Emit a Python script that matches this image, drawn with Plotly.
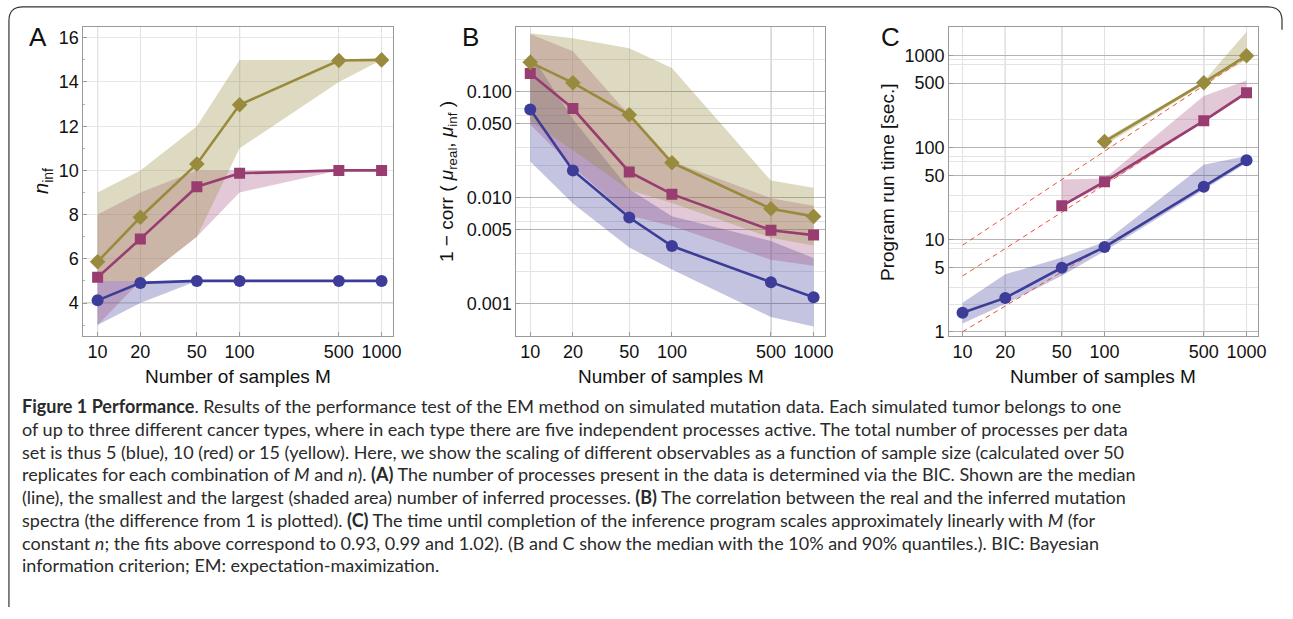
import plotly.graph_objects as go

# ---------------- data ----------------
M = [10, 20, 50, 100, 500, 1000]
M_tick_labels = ["10", "20", "50", "100", "500", "1000"]

# Panel A: number of inferred processes n_inf (median, min, max)
a_blue_med = [4.12, 4.91, 5.0, 5.0, 5.0, 5.0]
a_blue_lo = [3, 4, 5, 5, 5, 5]
a_blue_hi = [5, 5, 5, 5, 5, 5]
a_red_med = [5.16, 6.9, 9.26, 9.87, 10.0, 10.0]
a_red_lo = [3, 5, 7, 9, 10, 10]
a_red_hi = [8, 9, 10, 10, 10, 10]
a_yel_med = [5.87, 7.88, 10.29, 12.97, 14.97, 15.0]
a_yel_lo = [5, 5, 7, 11, 14, 15]
a_yel_hi = [9, 10, 12, 15, 15, 15]
a_yticks = [4, 6, 8, 10, 12, 14, 16]

# Panel B: 1 - corr(mu_real, mu_inf) (median, 10%, 90%)
b_blue_med = [0.068, 0.0181, 0.0065, 0.0035, 0.0016, 0.00115]
b_blue_lo = [0.022, 0.0088, 0.0034, 0.0021, 0.00075, 0.00061]
b_blue_hi = [0.23, 0.055, 0.012, 0.0067, 0.0039, 0.0027]
b_red_med = [0.148, 0.0693, 0.0175, 0.0108, 0.00494, 0.00444]
b_red_lo = [0.049, 0.0195, 0.0068, 0.0054, 0.0026, 0.00228]
b_red_hi = [0.35, 0.24, 0.06, 0.022, 0.0099, 0.0084]
b_yel_med = [0.189, 0.121, 0.0605, 0.0214, 0.00787, 0.00667]
b_yel_lo = [0.053, 0.028, 0.0118, 0.0089, 0.0042, 0.00355]
b_yel_hi = [0.355, 0.319, 0.257, 0.167, 0.0145, 0.0124]
b_yticks = [0.001, 0.005, 0.01, 0.05, 0.1]
b_ytick_labels = ["0.001", "0.005", "0.010", "0.050", "0.100"]

# Panel C: program run time [sec.] (median, 10%, 90%)
c_blue_med = [1.61, 2.33, 4.95, 8.3, 37.6, 72.6]
c_blue_lo = [1.23, 2.0, 4.05, 7.5, 34.7, 68]
c_blue_hi = [2.06, 4.2, 6.4, 9.4, 65, 81]
M_red_c = [50, 100, 500, 1000]
c_red_med = [23.3, 42.6, 195, 394]
c_red_lo = [23, 39, 188, 375]
c_red_hi = [45, 46, 363, 535]
M_yel_c = [100, 500, 1000]
c_yel_med = [116, 505, 992]
c_yel_lo = [105, 484, 899]
c_yel_hi = [124, 525, 1811]
c_yticks = [1, 5, 10, 50, 100, 500, 1000]
# power-law fits t = t10 * (M/10)^k
fit_exponent = [0.93, 0.99, 1.02]
fit_t10 = [1.0, 4.03, 8.7]
fit_range = [10, 1000]

caption_lines = [
    "<b>Figure 1 Performance</b>. Results of the performance test of the EM method on simulated mutation data. Each simulated tumor belongs to one",
    "of up to three different cancer types, where in each type there are five independent processes active. The total number of processes per data",
    "set is thus 5 (blue), 10 (red) or 15 (yellow). Here, we show the scaling of different observables as a function of sample size (calculated over 50",
    "replicates for each combination of <i>M</i> and <i>n</i>). <b>(A)</b> The number of processes present in the data is determined via the BIC. Shown are the median",
    "(line), the smallest and the largest (shaded area) number of inferred processes. <b>(B)</b> The correlation between the real and the inferred mutation",
    "spectra (the difference from 1 is plotted). <b>(C)</b> The time until completion of the inference program scales approximately linearly with <i>M</i> (for",
    "constant <i>n</i>; the fits above correspond to 0.93, 0.99 and 1.02). (B and C show the median with the 10% and 90% quantiles.). BIC: Bayesian",
    "information criterion; EM: expectation-maximization.",
]

# ---------------- style ----------------
W, H = 1293, 619
BLUE = "rgb(61,61,153)"
RED = "rgb(153,61,113)"
YEL = "rgb(153,139,61)"
FILL = {BLUE: "rgba(61,61,153,0.30)", RED: "rgba(153,61,113,0.28)", YEL: "rgba(153,139,61,0.32)"}
SYM = {BLUE: "circle", RED: "square", YEL: "diamond"}
MSIZE = {BLUE: 12, RED: 11, YEL: 12}
FONT = "Liberation Sans, Arial, Helvetica, sans-serif"


def px(x):
    return x / W


def py(y):
    return 1 - y / H


fig = go.Figure()


def add_band(xa, ya, xs, lo, hi, col):
    fig.add_trace(go.Scatter(
        x=list(xs) + list(xs)[::-1], y=list(hi) + list(lo)[::-1],
        fill="toself", fillcolor=FILL[col], line=dict(width=0), mode="lines",
        hoverinfo="skip", showlegend=False, xaxis=xa, yaxis=ya))


def add_line(xa, ya, xs, med, col):
    fig.add_trace(go.Scatter(
        x=xs, y=med, mode="lines+markers",
        line=dict(color=col, width=2.6),
        marker=dict(symbol=SYM[col], size=MSIZE[col], color=col),
        showlegend=False, xaxis=xa, yaxis=ya))


# Panel A
for xs, lo, hi, col in [(M, a_blue_lo, a_blue_hi, BLUE),
                        (M, a_red_lo, a_red_hi, RED),
                        (M, a_yel_lo, a_yel_hi, YEL)]:
    add_band("x", "y", xs, lo, hi, col)
for xs, med, col in [(M, a_blue_med, BLUE), (M, a_red_med, RED), (M, a_yel_med, YEL)]:
    add_line("x", "y", xs, med, col)

# Panel B
for xs, lo, hi, col in [(M, b_blue_lo, b_blue_hi, BLUE),
                        (M, b_red_lo, b_red_hi, RED),
                        (M, b_yel_lo, b_yel_hi, YEL)]:
    add_band("x2", "y2", xs, lo, hi, col)
for xs, med, col in [(M, b_blue_med, BLUE), (M, b_red_med, RED), (M, b_yel_med, YEL)]:
    add_line("x2", "y2", xs, med, col)

# Panel C
for xs, lo, hi, col in [(M, c_blue_lo, c_blue_hi, BLUE),
                        (M_red_c, c_red_lo, c_red_hi, RED),
                        (M_yel_c, c_yel_lo, c_yel_hi, YEL)]:
    add_band("x3", "y3", xs, lo, hi, col)
for k, t10 in zip(fit_exponent, fit_t10):
    fig.add_trace(go.Scatter(
        x=fit_range, y=[t10 * (m / 10) ** k for m in fit_range], mode="lines",
        line=dict(color="rgb(232,80,60)", width=1, dash="5px,4px"),
        showlegend=False, hoverinfo="skip", xaxis="x3", yaxis="y3"))
for xs, med, col in [(M, c_blue_med, BLUE), (M_red_c, c_red_med, RED), (M_yel_c, c_yel_med, YEL)]:
    add_line("x3", "y3", xs, med, col)

# ---------------- axes ----------------
y_dom = [py(339), py(27)]
x_doms = [[px(84), px(396)], [px(520), px(830.7)], [px(955.7), px(1266.7)]]
x_ranges = [[0.9, 3.082], [0.902, 3.08], [0.905, 3.08]]

tickfont = dict(family=FONT, size=18, color="#111")
frame = dict(showline=True, linecolor="#9a9a9a", linewidth=1, mirror=True,
             ticks="inside", ticklen=4, tickcolor="#9a9a9a", zeroline=False,
             tickfont=tickfont)

layout_axes = {}
for i, (dom, rng) in enumerate(zip(x_doms, x_ranges)):
    name = "xaxis" if i == 0 else f"xaxis{i+1}"
    layout_axes[name] = dict(frame, type="log", domain=dom, range=rng,
                             tickvals=M, ticktext=M_tick_labels,
                             anchor="y" if i == 0 else f"y{i+1}",
                             showgrid=True, gridcolor="#e2e2e2", gridwidth=1)

layout_axes["yaxis"] = dict(frame, domain=y_dom, range=[2.52, 16.5], anchor="x",
                            tickvals=a_yticks, showgrid=True, gridcolor="#e6e6e6",
                            minor=dict(ticks="inside", ticklen=2, tickcolor="#b0b0b0",
                                       tickvals=[3, 5, 7, 9, 11, 13, 15], showgrid=False))
layout_axes["yaxis2"] = dict(frame, type="log", domain=y_dom, range=[-3.301, -0.388], anchor="x2",
                             tickvals=b_yticks, ticktext=b_ytick_labels, showgrid=True,
                             gridcolor="#b4b4b4",
                             minor=dict(tickvals=[0.2, 0.07, 0.06, 0.03, 0.02, 0.008, 0.006, 0.003, 0.002],
                                        showgrid=True, gridcolor="#e4e4e4", ticks=""))
layout_axes["yaxis3"] = dict(frame, type="log", domain=y_dom, range=[-0.043, 3.311], anchor="x3",
                             tickvals=c_yticks, ticktext=[str(v) for v in c_yticks], showgrid=True,
                             gridcolor="#b4b4b4",
                             minor=dict(tickvals=[2, 3, 8, 9, 20, 30, 70, 80, 200, 800, 900],
                                        showgrid=True, gridcolor="#e4e4e4", ticks=""))

# darker grid lines (Mathematica-style emphasis)
dark_grid = [("x", "y", [10, 100], [4]),
             ("x2", "y2", [500], []),
             ("x3", "y3", [20, 50, 500, 1000], [])]
shapes = []
for xa, ya, xv, yv in dark_grid:
    for v in xv:
        shapes.append(dict(type="line", xref=xa, yref=f"{ya} domain", x0=v, x1=v, y0=0, y1=1,
                           line=dict(color="#a8a8a8", width=1), layer="below"))
    for v in yv:
        shapes.append(dict(type="line", xref=f"{xa} domain", yref=ya, x0=0, x1=1, y0=v, y1=v,
                           line=dict(color="#a8a8a8", width=1), layer="below"))

# outer rounded frame
shapes.append(dict(
    type="path", xref="paper", yref="paper",
    path=(f"M {px(9)},{py(613)} L {px(9)},{py(21)} Q {px(9)},{py(7)} {px(23)},{py(7)} "
          f"L {px(1277)},{py(7)} Q {px(1291)},{py(7)} {px(1291)},{py(21)} L {px(1291)},{py(30)}"),
    line=dict(color="#333", width=1.2)))

annotations = []


def ann(text, x, y, size, angle=0, xanchor="center", family=FONT, color="#111"):
    annotations.append(dict(text=text, x=px(x), y=py(y), xref="paper", yref="paper",
                            xanchor=xanchor, yanchor="middle", textangle=angle,
                            showarrow=False, align="left",
                            font=dict(family=family, size=size, color=color)))


# panel letters
for letter, x in [("A", 38), ("B", 474), ("C", 897)]:
    ann(letter, x, 37, 26)
# x titles
for x in [240, 676, 1111]:
    ann("Number of samples M", x, 380, 19)
# y titles
ann("<i>n</i><sub>inf</sub>", 43, 183, 20, angle=-90)
ann("1 − corr ( <i>μ</i><sub>real</sub>, <i>μ</i><sub>inf</sub> )", 451, 183, 19, angle=-90)
ann("Program run time [sec.]", 893, 184, 19, angle=-90)
# caption
for i, line in enumerate(caption_lines):
    ann(line, 20, 410 + 23 * i, 18, xanchor="left",
        family="Lato, Open Sans, sans-serif", color="#2a2a2a")

fig.update_layout(width=W, height=H, margin=dict(l=0, r=0, t=0, b=0),
                  plot_bgcolor="white", paper_bgcolor="white",
                  shapes=shapes, annotations=annotations, showlegend=False,
                  **layout_axes)

fig.write_html("out.html", config={"displayModeBar": False},
               post_script="document.body.style.margin='0';")
